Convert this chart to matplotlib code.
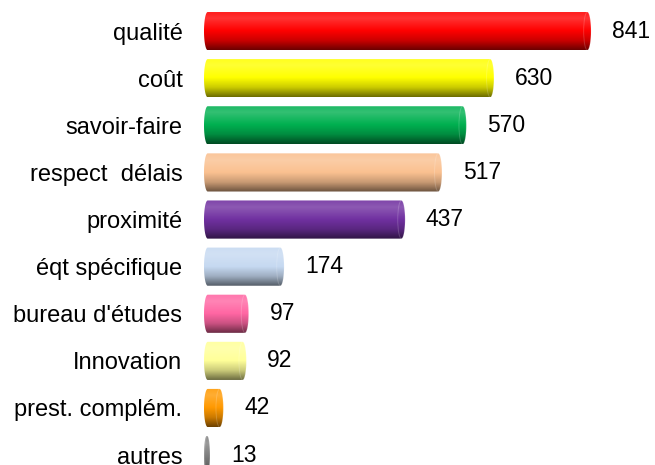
import matplotlib
matplotlib.use("Agg")
import matplotlib.pyplot as plt
import numpy as np
from matplotlib.colors import LinearSegmentedColormap, to_rgb
from matplotlib.patches import Ellipse, PathPatch
from matplotlib.path import Path

plt.rcParams['font.family'] = ['Liberation Sans', 'DejaVu Sans']

categories = ['qualité', 'coût', 'savoir-faire', 'respect  délais', 'proximité',
              'éqt spécifique', "bureau d'études", 'Innovation', 'prest. complém.', 'autres']
values = [841, 630, 570, 517, 437, 174, 97, 92, 42, 13]
colors = ['#FF0000', '#FFFF00', '#00B050', '#FAC090', '#7030A0',
          '#C6D9F1', '#FF66A3', '#FFFF99', '#FF9900', '#808080']


def cylinder_cmap(base):
    b = np.array(to_rgb(base))
    white = np.ones(3)
    stops = [
        (0.0, b * 0.9 + white * 0.1),
        (0.18, b * 0.8 + white * 0.2),
        (0.5, b),
        (0.75, b * 0.8),
        (1.0, b * 0.42),
    ]
    return LinearSegmentedColormap.from_list('cyl', stops)


fig = plt.figure(figsize=(6.55, 4.65), dpi=100)
ax = fig.add_axes([204 / 655, 0, 1 - 204 / 655, 1])

y = np.arange(len(categories))
bars = ax.barh(y, values, height=0.81, color='none', edgecolor='none')

cap_w = 16  # data units for the end-cap ellipse
grad = np.linspace(0, 1, 256).reshape(-1, 1)
for rect, col in zip(bars, colors):
    x0, y0 = rect.get_x(), rect.get_y()
    w, h = rect.get_width(), rect.get_height()
    cw = min(cap_w, w * 0.9)
    # outline of a cylinder seen from the side: rounded left and right ends
    t = np.linspace(-np.pi / 2, np.pi / 2, 30)
    right = np.column_stack([x0 + w - cw / 2 + cw / 2 * np.cos(t), y0 + h / 2 + h / 2 * np.sin(t)])
    left = np.column_stack([x0 + cw / 2 - cw / 2 * np.cos(-t), y0 + h / 2 + h / 2 * np.sin(-t)])
    verts = np.vstack([right, left, right[:1]])
    codes = [Path.MOVETO] + [Path.LINETO] * (len(verts) - 2) + [Path.CLOSEPOLY]
    clip = PathPatch(Path(verts, codes), facecolor='none', edgecolor='none', transform=ax.transData)
    ax.add_patch(clip)
    im = ax.imshow(grad, cmap=cylinder_cmap(col), aspect='auto',
                   extent=(x0, x0 + w, y0 + h, y0), origin='upper', zorder=2)
    im.set_clip_path(clip)
    cap = Ellipse((x0 + w - cw / 2, y0 + h / 2), cw, h, facecolor='none',
                  edgecolor=(1, 1, 1, 0.18), linewidth=0.7, zorder=3)
    ax.add_patch(cap)

for yi, v in zip(y, values):
    ax.annotate(str(v), (v, yi), xytext=(15, 0), textcoords='offset points',
                ha='left', va='center', fontsize=16.5, color='black')

ax.set_xlim(0, 980)
ax.set_ylim(9.21, -0.66)
ax.set_yticks(y)
ax.set_yticklabels(categories, fontsize=17)
ax.tick_params(axis='y', length=0, pad=15.5)
ax.set_xticks([])
for s in ax.spines.values():
    s.set_visible(False)

fig.savefig('out.png', dpi=100, facecolor='white')
